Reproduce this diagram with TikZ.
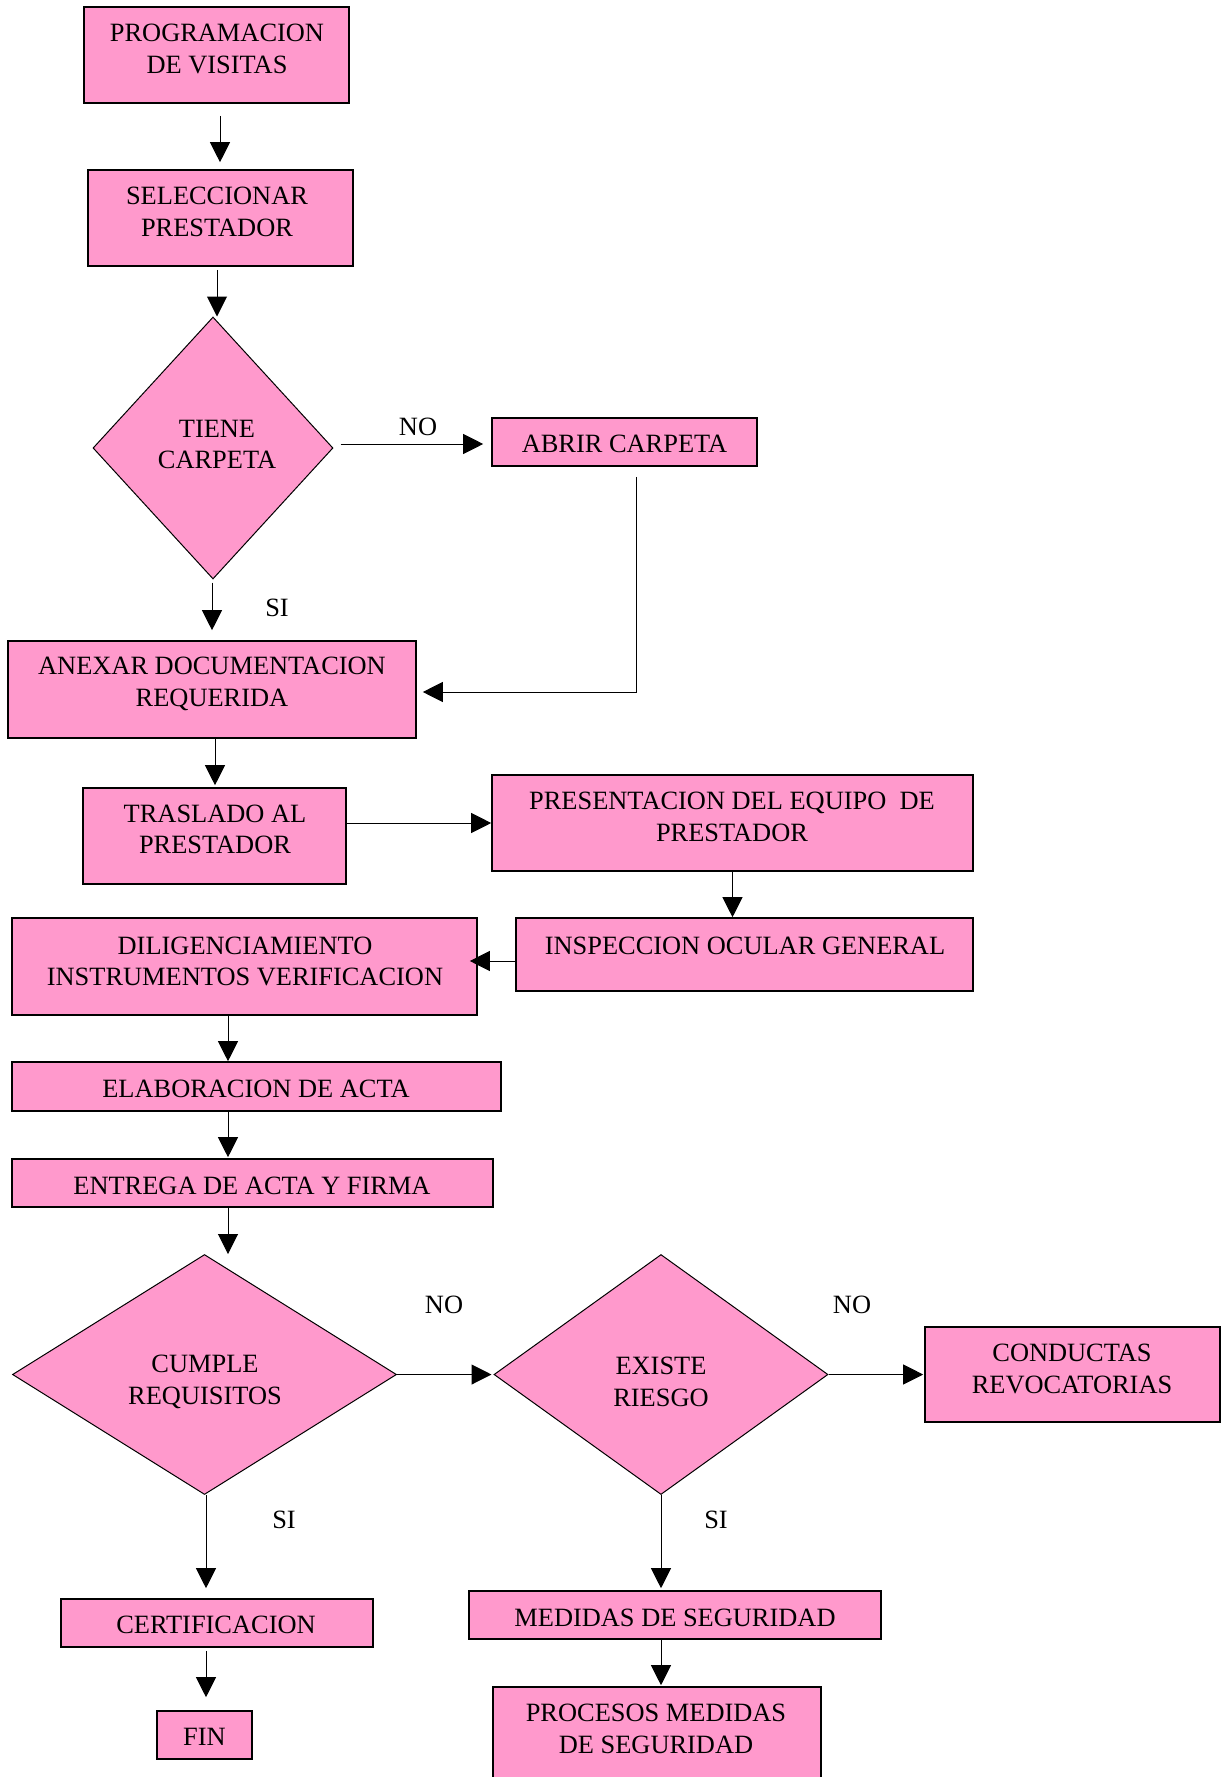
\documentclass[tikz,border=0pt]{standalone}
\usepackage{fontspec}
\setmainfont{Liberation Serif}
\usetikzlibrary{arrows.meta,calc,fit,shapes.geometric}
\definecolor{pinkfill}{HTML}{FF99CC}
\begin{document}
\begin{tikzpicture}[x=0.5pt,y=-0.5pt,
  box/.style={rectangle, draw=black, fill=pinkfill, line width=0.8pt, inner sep=0pt},
  dia/.style={diamond, draw=black, fill=pinkfill, line width=0.5pt, inner sep=0pt},
  txt/.style={font=\fontsize{13.2}{15.8}\selectfont, align=center, inner sep=0pt, text=black},
  arr/.style={line width=0.5pt, -{Triangle[length=10pt,width=10pt]}}]
\useasboundingbox (0,0) rectangle (1225,1777);
\clip (0,0) rectangle (1225,1777);

% boxes
\node[box, fit={(84,7) (349,103)}] (prog) {};
\node[box, fit={(88,170) (353,266)}] (selec) {};
\node[dia, minimum width=120pt, minimum height=131pt] (tiene) at (213,448) {};
\node[box, fit={(492,418) (757,466)}] (abrir) {};
\node[box, fit={(8,641) (416,738)}] (anexar) {};
\node[box, fit={(83,788) (346,884)}] (trasl) {};
\node[box, fit={(492,775) (973,871)}] (prese) {};
\node[box, fit={(516,918) (973,991)}] (insp) {};
\node[box, fit={(12,918) (477,1015)}] (dilig) {};
\node[box, fit={(12,1062) (501,1111)}] (elab) {};
\node[box, fit={(12,1159) (493,1207)}] (entr) {};
\node[dia, minimum width=192pt, minimum height=120pt] (cumple) at (204.5,1374.5) {};
\node[dia, minimum width=167pt, minimum height=120pt] (existe) at (661,1374.5) {};
\node[box, fit={(925,1327) (1220,1422)}] (cond) {};
\node[box, fit={(61,1599) (373,1647)}] (cert) {};
\node[box, fit={(157,1711) (252,1759)}] (fin) {};
\node[box, fit={(469,1591) (881,1639)}] (medid) {};
\node[box, fit={(493,1687) (821,1800)}] (proc) {};

% texts
\node[txt] (progt) at (217,49) {PROGRAMACION\\DE VISITAS};
\node[txt] (select) at (217,212) {SELECCIONAR\\PRESTADOR};
\node[txt] (tienet) at (217,444.5) {TIENE\\CARPETA};
\node[txt] (abrirt) at (624.5,444) {ABRIR CARPETA};
\node[txt] (anexart) at (212,684) {ANEXAR DOCUMENTACION\\REQUERIDA};
\node[txt] (traslt) at (215,829.5) {TRASLADO AL\\PRESTADOR};
\node[txt] (preset) at (732,817) {PRESENTACION DEL EQUIPO\ \ DE\\PRESTADOR};
\node[txt] (inspt) at (745,946) {INSPECCION OCULAR GENERAL};
\node[txt] (diligt) at (245,961.5) {DILIGENCIAMIENTO\\INSTRUMENTOS VERIFICACION};
\node[txt] (elabt) at (256,1089) {ELABORACION DE ACTA};
\node[txt] (entrt) at (252,1186) {ENTREGA DE ACTA Y FIRMA};
\node[txt] (cumplet) at (205,1382) {CUMPLE\\REQUISITOS};
\node[txt] (existet) at (661,1382) {EXISTE\\RIESGO};
\node[txt] (condt) at (1072,1369) {CONDUCTAS\\REVOCATORIAS};
\node[txt] (certt) at (216,1625) {CERTIFICACION};
\node[txt] (fint) at (204.5,1737) {FIN};
\node[txt] (medidt) at (675,1618) {MEDIDAS DE SEGURIDAD};
\node[txt] (proct) at (656,1729) {PROCESOS MEDIDAS\\DE SEGURIDAD};

% branch labels
\node[txt] (no1) at (418,427) {NO};
\node[txt] (si1) at (277,608) {SI};
\node[txt] (no2) at (444,1305) {NO};
\node[txt] (no3) at (852,1305) {NO};
\node[txt] (si2) at (284,1520) {SI};
\node[txt] (si3) at (716,1520) {SI};

% connectors
\draw[arr] ($(prog.south)+(3.5,12)$) -- ($(selec.north)+(-0.5,-7)$);
\draw[arr] ($(selec.south)+(-3.5,3)$) -- ($(tiene.north)+(4,0)$);
\draw[arr] ($(tiene.east)+(7,-4)$) -- ($(abrir.west)+(-8,2)$);
\draw[arr] ($(abrir.south)+(11.5,10)$) |- ($(anexar.east)+(6,2.5)$);
\draw[arr] ($(tiene.south)+(-1,3)$) -- ($(anexar.north)+(0,-10)$);
\draw[arr] ($(anexar.south)+(3,0)$) -- ($(trasl.north)+(0.5,-2)$);
\draw[arr] (trasl.east |- prese.west) -- (prese.west);
\draw[arr] (prese.south) -- (prese.south |- insp.north);
\draw[arr] ($(insp.west)+(0,6.5)$) -- ($(dilig.east)+(-8,-5.5)$);
\draw[arr] ($(dilig.south)+(-16.5,0)$) -- ($(elab.north)+(-28.5,0)$);
\draw[arr] ($(elab.south)+(-28.5,0)$) -- ($(entr.north)+(-24.5,-1)$);
\draw[arr] ($(entr.south)+(-24.5,0)$) -- ($(cumple.north)+(23.5,0)$);
\draw[arr] (cumple.east) -- ($(existe.west)+(-2,0)$);
\draw[arr] (existe.east) -- ($(existe.east -| cond.west)+(-1,0)$);
\draw[arr] ($(cumple.south)+(1.5,0)$) -- ($(cert.north)+(-11,-10)$);
\draw[arr] ($(cert.south)+(-11,3)$) -- ($(fin.north)+(1.5,-13)$);
\draw[arr] (existe.south) -- ($(medid.north)+(-14,-2)$);
\draw[arr] ($(medid.south)+(-14,0)$) -- ($(proc.north)+(4,-1)$);
\end{tikzpicture}
\end{document}
